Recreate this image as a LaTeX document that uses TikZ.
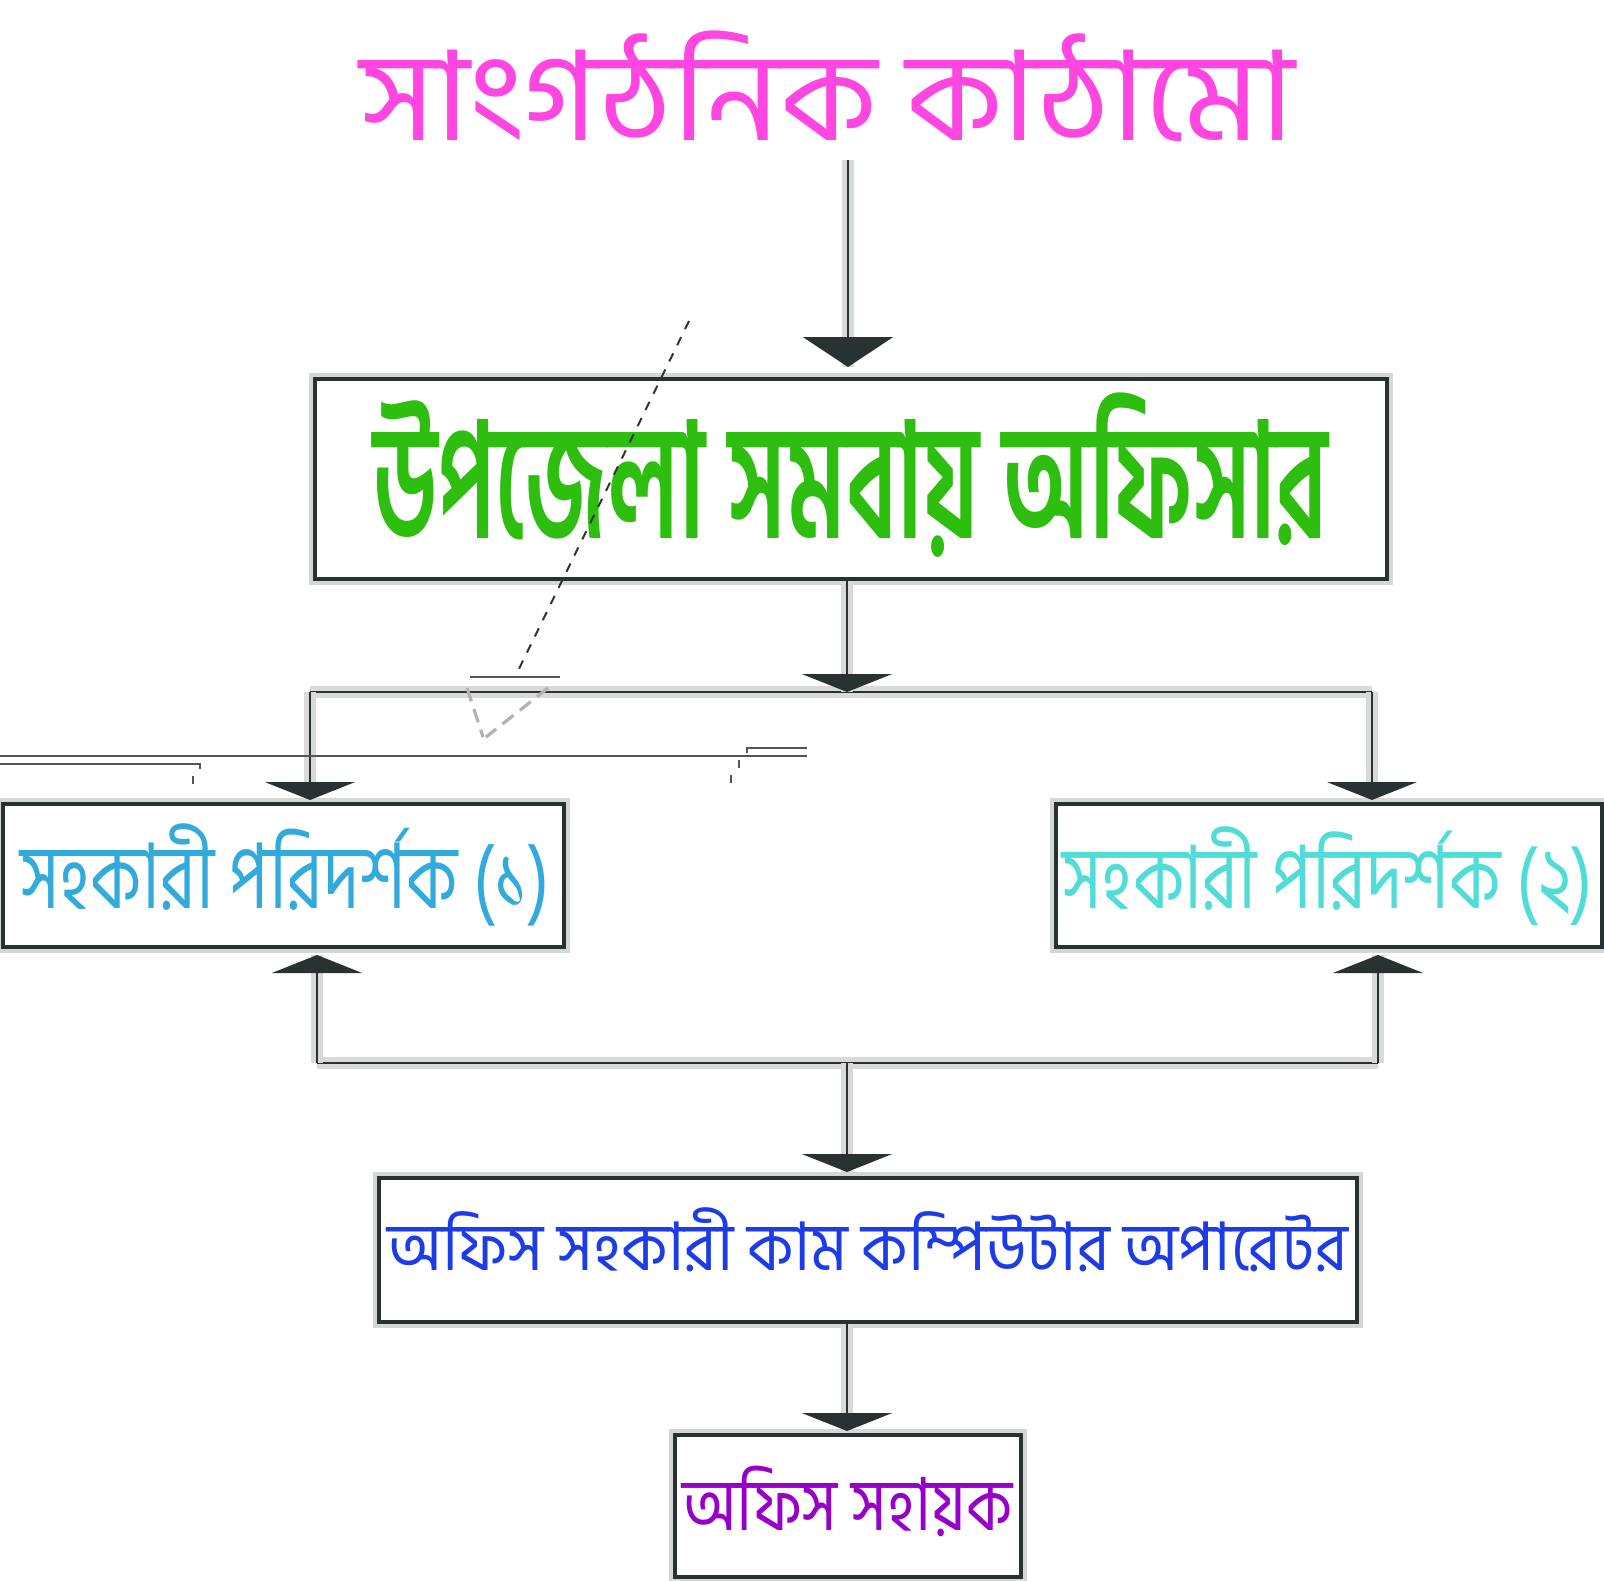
\documentclass[tikz,border=0pt]{standalone}
\usepackage{fontspec}
\setmainfont{Hind Siliguri}[Script=Bengali]
\usepackage{graphicx}
\usetikzlibrary{arrows.meta}
\definecolor{dkline}{RGB}{40,50,50}
\definecolor{cTitle}{RGB}{255,70,225}
\definecolor{cGreen}{RGB}{45,190,15}
\definecolor{cBlueA}{RGB}{50,170,220}
\definecolor{cCyan}{RGB}{80,220,215}
\definecolor{cBlue}{RGB}{30,60,230}
\definecolor{cPurple}{RGB}{150,0,200}
\definecolor{artgray}{RGB}{85,85,85}
\newsavebox\fitbox
\newlength\fith
% #1 target width (pt), #2 target headline height (pt), #3 text
\newcommand\fittext[3]{%
  \sbox\fitbox{#3}%
  \settoheight\fith{ক}%
  \pgfmathsetmacro\fitxs{#1/\the\wd\fitbox}%
  \pgfmathsetmacro\fitys{#2/\the\fith}%
  \scalebox{\fitxs}[\fitys]{\usebox\fitbox}}
\tikzset{
  boxst/.style={draw=dkline, line width=2pt, fill=white, inner sep=0pt,
    preaction={draw=black!16, line width=6pt}},
  lbl/.style={anchor=base, inner sep=0pt, font=\fontsize{40}{48}\selectfont},
  boldlbl/.style={lbl, font=\fontsize{40}{48}\selectfont\bfseries},
  conn/.style={draw=dkline, line width=1.4pt,
    preaction={draw=black!15, line width=6pt, -}},
  tipA/.style={-{Triangle[width=45pt,length=9pt]}},
  tipB/.style={-{Triangle[width=45pt,length=15pt]}},
  artline/.style={draw=artgray, line width=1pt},
  artdash/.style={draw=black!80, line width=1pt, dash pattern=on 4.5pt off 4.5pt},
  ghost/.style={draw=black!30, line width=1.6pt, dash pattern=on 7pt off 4pt}
}
\begin{document}
\begin{tikzpicture}[x=0.5pt,y=-0.5pt]
\useasboundingbox (0,0) rectangle (1604,1580);
\fill[white] (0,0) rectangle (1604,1580);

% title
\node[lbl, text=cTitle] (tTitle) at (827.5,140)
  {\fittext{467.5}{40}{সাংগঠনিক কাঠামো}};

% boxes
\node[boxst, minimum width=536pt, minimum height=100pt] (B1) at (851,479) {};
\node[boxst, minimum width=280.5pt, minimum height=71.5pt] (B2) at (283.5,875.5) {};
\node[boxst, minimum width=273pt, minimum height=71.5pt] (B3) at (1329,875.5) {};
\node[boxst, minimum width=489pt, minimum height=72pt] (B4) at (868,1250) {};
\node[boxst, minimum width=173pt, minimum height=71pt] (B5) at (848,1506) {};

% labels
\node[boldlbl, text=cGreen] (tB1) at (850.5,538)
  {\fittext{477.5}{53}{উপজেলা সমবায় অফিসার}};
\node[lbl, text=cBlueA] (tB2) at (285,908)
  {\fittext{265}{29}{সহকারী পরিদর্শক (১)}};
\node[lbl, text=cCyan] (tB3) at (1327.5,908)
  {\fittext{265.5}{28}{সহকারী পরিদর্শক (২)}};
\node[lbl, text=cBlue] (tB4) at (867.5,1270)
  {\fittext{480.5}{21.5}{অফিস সহকারী কাম কম্পিউটার অপারেটর}};
\node[lbl, text=cPurple] (tB5) at (847.5,1530)
  {\fittext{165.5}{23.5}{অফিস সহায়ক}};

% connector points
\coordinate (t0) at (848,160);
\coordinate (j1) at (847,692);
\coordinate (jl) at (310,692);
\coordinate (jr) at (1372,692);
\coordinate (kl) at (317,1063);
\coordinate (kr) at (1378,1063);
\coordinate (km) at (847,1063);

% connectors
\draw[conn, tipB, shorten >=5pt] (t0) -- (t0 |- B1.north);
\draw[conn] (jl) -- (jr);
\draw[conn, tipA] (j1 |- B1.south) -- (j1);
\draw[conn, tipA, shorten >=1pt] (jl) -- (jl |- B2.north);
\draw[conn, tipA, shorten >=1pt] (jr) -- (jr |- B3.north);
\draw[conn] (kl) -- (kr);
\draw[conn, tipA, shorten >=3pt] (kl) -- (kl |- B2.south);
\draw[conn, tipA, shorten >=3pt] (kr) -- (kr |- B3.south);
\draw[conn, tipA, shorten >=2pt] (km) -- (km |- B4.north);
\draw[conn, tipA, shorten >=1pt] (km |- B4.south) -- (km |- B5.north);

% stray marks
\draw[artdash] (689,321) -- (515,677);
\draw[artline] (470,677) -- (560,677);
\draw[ghost] (467,688) -- (483,737);
\draw[ghost] (548,688) -- (486,737);
\draw[artline] (0,756) -- (807,756);
\draw[artline] (747,753) -- (747,748) -- (807,748);
\draw[artline] (0,764) -- (200,764) -- (200,769);
\draw[artline] (193,776) -- (193,784);
\draw[artline] (739,760) -- (739,768);
\draw[artline] (731,775) -- (731,783);
\end{tikzpicture}
\end{document}
